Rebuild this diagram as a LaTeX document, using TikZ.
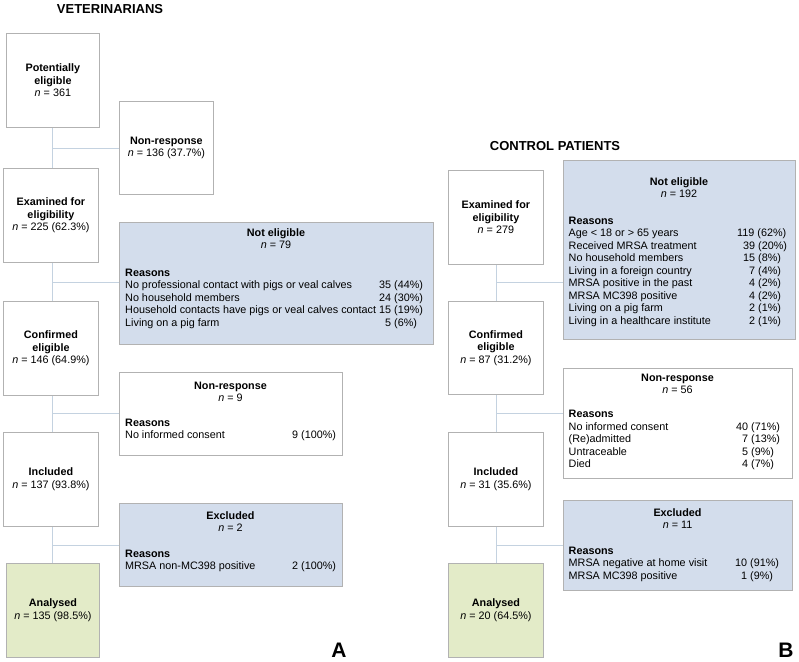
\documentclass[tikz,border=0pt]{standalone}
\usepackage{fontspec}
\setmainfont{Liberation Sans}
\usepackage{array}
\definecolor{boxline}{RGB}{178,178,178}
\definecolor{connline}{RGB}{196,210,224}
\definecolor{bluefill}{RGB}{211,221,236}
\definecolor{greenfill}{RGB}{227,235,200}
\tikzset{
  box/.style={draw=boxline, line width=0.8pt, fill=white, inner sep=0pt, align=center,
    anchor=north west, font=\fontsize{10.8}{12.5}\selectfont},
  bbox/.style={box, fill=bluefill},
  gbox/.style={box, fill=greenfill},
  conn/.style={draw=connline, line width=0.9pt},
  ttl/.style={font=\bfseries\fontsize{13}{15}\selectfont, inner sep=0pt, anchor=base},
  txt/.style={font=\fontsize{10.8}{12.5}\selectfont, inner sep=0pt},
  panel/.style={font=\bfseries\fontsize{21}{24}\selectfont, inner sep=0pt, anchor=base},
}
\begin{document}
\begin{tikzpicture}[x=1pt,y=-1pt]
\useasboundingbox (0,0) rectangle (799,661);

% ---------------- Panel A ----------------
\node[ttl] (titleA) at (110,13.5) {VETERINARIANS};

\node[box, minimum width=93, minimum height=94] (pe) at (6,33) {\textbf{Potentially}\\\textbf{eligible}\\\textit{n} = 361};
\node[box, minimum width=95, minimum height=94] (ex) at (3,168) {\textbf{Examined for}\\\textbf{eligibility}\\\textit{n} = 225 (62.3\%)};
\node[box, minimum width=95, minimum height=94] (ce) at (3,301) {\textbf{Confirmed}\\\textbf{eligible}\\\textit{n} = 146 (64.9\%)};
\node[box, minimum width=95, minimum height=94] (inc) at (3,432) {\textbf{Included}\\\textit{n} = 137 (93.8\%)};
\node[gbox, minimum width=93, minimum height=94] (an) at (6,563) {\textbf{Analysed}\\\textit{n} = 135 (98.5\%)};

\node[box, minimum width=94, minimum height=93] (nr1) at (119,101) {\textbf{Non-response}\\\textit{n} = 136 (37.7\%)};
\node[bbox, minimum width=314, minimum height=122] (ne1) at (119,222) {};
\node[box, minimum width=223, minimum height=83] (nr2) at (119,372) {};
\node[bbox, minimum width=223, minimum height=83] (exc1) at (119,503) {};

\node[txt, anchor=base] (ne1t) at (276,236) {\begin{tabular}[t]{@{}c@{}}\textbf{Not eligible}\\\textit{n} = 79\end{tabular}};
\node[txt, anchor=base west] (ne1r) at (125,276) {\begin{tabular}[t]{@{}w{l}{254pt}@{}l@{}}
\textbf{Reasons} & \\
No professional contact with pigs or veal calves & 35 (44\%)\\
No household members & 24 (30\%)\\
Household contacts have pigs or veal calves contact & 15 (19\%)\\
Living on a pig farm & \hphantom{0}5 (6\%)
\end{tabular}};

\node[txt, anchor=base] (nr2t) at (230.5,389) {\begin{tabular}[t]{@{}c@{}}\textbf{Non-response}\\\textit{n} = 9\end{tabular}};
\node[txt, anchor=base west] (nr2r) at (125,426) {\begin{tabular}[t]{@{}w{l}{167pt}@{}l@{}}
\textbf{Reasons} & \\
No informed consent & 9 (100\%)
\end{tabular}};

\node[txt, anchor=base] (exc1t) at (230.5,519) {\begin{tabular}[t]{@{}c@{}}\textbf{Excluded}\\\textit{n} = 2\end{tabular}};
\node[txt, anchor=base west] (exc1r) at (125,557) {\begin{tabular}[t]{@{}w{l}{167pt}@{}l@{}}
\textbf{Reasons} & \\
MRSA non-MC398 positive & 2 (100\%)
\end{tabular}};

\coordinate (j1) at (52,148);
\coordinate (j2) at (52,282);
\coordinate (j3) at (52,413);
\coordinate (j4) at (52,545);
\draw[conn] (pe.south -| j1) -- (ex.north -| j1);
\draw[conn] (ex.south -| j2) -- (ce.north -| j2);
\draw[conn] (ce.south -| j3) -- (inc.north -| j3);
\draw[conn] (inc.south -| j4) -- (an.north -| j4);
\draw[conn] (j1) -- (j1 -| nr1.west);
\draw[conn] (j2) -- (j2 -| ne1.west);
\draw[conn] (j3) -- (j3 -| nr2.west);
\draw[conn] (j4) -- (j4 -| exc1.west);

\node[panel] (labA) at (339,657) {A};

% ---------------- Panel B ----------------
\node[ttl] (titleB) at (555,150) {CONTROL PATIENTS};

\node[box, minimum width=95, minimum height=94] (ex2) at (448,170) {\textbf{Examined for}\\\textbf{eligibility}\\\textit{n} = 279};
\node[box, minimum width=95, minimum height=93] (ce2) at (448,301) {\textbf{Confirmed}\\\textbf{eligible}\\\textit{n} = 87 (31.2\%)};
\node[box, minimum width=95, minimum height=94] (inc2) at (448,432) {\textbf{Included}\\\textit{n} = 31 (35.6\%)};
\node[gbox, minimum width=95, minimum height=94] (an2) at (448,563) {\textbf{Analysed}\\\textit{n} = 20 (64.5\%)};

\node[bbox, minimum width=232, minimum height=179] (ne2) at (563,160) {};
\node[box, minimum width=229, minimum height=110] (nr3) at (563,368) {};
\node[bbox, minimum width=229, minimum height=90] (exc2) at (563,500) {};

\node[txt, anchor=base] (ne2t) at (679,185) {\begin{tabular}[t]{@{}c@{}}\textbf{Not eligible}\\\textit{n} = 192\end{tabular}};
\node[txt, anchor=base west] (ne2r) at (568.5,224) {\begin{tabular}[t]{@{}w{l}{168.5pt}@{}l@{}}
\textbf{Reasons} & \\
Age < 18 or > 65 years & 119 (62\%)\\
Received MRSA treatment & \hphantom{0}39 (20\%)\\
No household members & \hphantom{0}15 (8\%)\\
Living in a foreign country & \hphantom{00}7 (4\%)\\
MRSA positive in the past & \hphantom{00}4 (2\%)\\
MRSA MC398 positive & \hphantom{00}4 (2\%)\\
Living on a pig farm & \hphantom{00}2 (1\%)\\
Living in a healthcare institute & \hphantom{00}2 (1\%)
\end{tabular}};

\node[txt, anchor=base] (nr3t) at (677.5,381) {\begin{tabular}[t]{@{}c@{}}\textbf{Non-response}\\\textit{n} = 56\end{tabular}};
\node[txt, anchor=base west] (nr3r) at (568.5,417.5) {\begin{tabular}[t]{@{}w{l}{167.5pt}@{}l@{}}
\textbf{Reasons} & \\
No informed consent & 40 (71\%)\\
(Re)admitted & \hphantom{0}7 (13\%)\\
Untraceable & \hphantom{0}5 (9\%)\\
Died & \hphantom{0}4 (7\%)
\end{tabular}};

\node[txt, anchor=base] (exc2t) at (677.5,516) {\begin{tabular}[t]{@{}c@{}}\textbf{Excluded}\\\textit{n} = 11\end{tabular}};
\node[txt, anchor=base west] (exc2r) at (568.5,554) {\begin{tabular}[t]{@{}w{l}{166.5pt}@{}l@{}}
\textbf{Reasons} & \\
MRSA negative at home visit & 10 (91\%)\\
MRSA MC398 positive & \hphantom{0}1 (9\%)
\end{tabular}};

\coordinate (k1) at (496,282);
\coordinate (k2) at (496,413);
\coordinate (k3) at (496,545);
\draw[conn] (ex2.south -| k1) -- (ce2.north -| k1);
\draw[conn] (ce2.south -| k2) -- (inc2.north -| k2);
\draw[conn] (inc2.south -| k3) -- (an2.north -| k3);
\draw[conn] (k1) -- (k1 -| ne2.west);
\draw[conn] (k2) -- (k2 -| nr3.west);
\draw[conn] (k3) -- (k3 -| exc2.west);

\node[panel] (labB) at (786,657) {B};
\end{tikzpicture}
\end{document}
